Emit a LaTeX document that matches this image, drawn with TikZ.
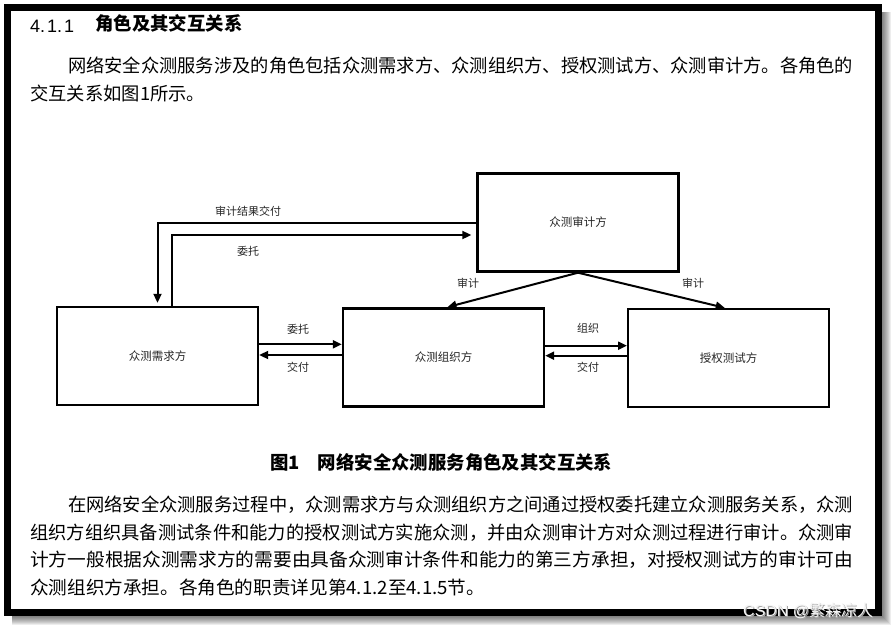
\documentclass[tikz,border=0pt]{standalone}
\usepackage{fontspec}
\usepackage{graphicx}
\usetikzlibrary{arrows.meta}
\setmainfont{Liberation Sans}
\newfontfamily\cjk{Noto Sans CJK SC}
\begin{document}
\begin{tikzpicture}[x=1pt,y=-1pt,
  box/.style={draw=black,line width=2.4pt,minimum width=201pt,minimum height=98pt,inner sep=0pt,font=\cjk\fontsize{11.5}{12}\selectfont,text=black!85},
  arr/.style={line width=2pt,-{Triangle[length=9pt,width=8pt]}},
  lbl/.style={font=\cjk\fontsize{11}{12}\selectfont,text=black!85,inner sep=0pt},
  txt/.style={font=\cjk\fontsize{18.3}{20}\selectfont,anchor=west,inner sep=0pt,text height=0.88em,text depth=0.12em}]
\useasboundingbox (0,0) rectangle (895,629);
% shadow
\foreach \i in {1,...,9}
  \fill[black,opacity=0.07] (12,12) rectangle (882+\i,616+\i);
\fill[white] (4,4) rectangle (882,616);
\draw[line width=7pt] (7.5,7.5) rectangle (878.5,612.5);

% heading
\node[anchor=west,inner sep=0pt,font=\fontsize{18}{20}\selectfont] (hnum) at (30,26) {4.\hspace{2pt}1.\hspace{2pt}1};
\node[txt,font=\cjk\bfseries\fontsize{18.4}{20}\selectfont] (htitle) at (95,27) {角色及其交互关系};

% paragraph 1
\node[txt] (p1a) at (68,69) {\resizebox{785pt}{\height}{网络安全众测服务涉及的角色包括众测需求方、众测组织方、授权测试方、众测审计方。各角色的}};
\node[txt] (p1b) at (30,97) {交互关系如图1所示。};

% diagram
\node[box] (req)  at (157.5,356) {众测需求方};
\node[box] (org)  at (443.5,357.3) {众测组织方};
\node[box] (test) at (728.7,358) {授权测试方};
\node[box] (aud)  at (578,222.5) {众测审计方};

\draw[arr,shorten >=3pt] (aud.west) -| (req.north);
\draw[arr,shorten >=5pt] ([xshift=14.5pt]req.north) |- ([yshift=-12.5pt]aud.west);
\node[lbl] (l1) at (248,211) {审计结果交付};
\node[lbl] (l2) at (248,251) {委托};

\draw[arr] ([yshift=11.7pt]req.east) -- ([yshift=11.7pt]req.east -| org.west);
\draw[arr] ([yshift=2.3pt]org.west) -- ([yshift=2.3pt]org.west -| req.east);
\node[lbl] (l3) at (298,329) {委托};
\node[lbl] (l4) at (298,367) {交付};

\draw[arr] ([yshift=11.6pt]org.east) -- ([yshift=11.6pt]org.east -| test.west);
\draw[arr] ([yshift=2.3pt]test.west) -- ([yshift=2.3pt]test.west -| org.east);
\node[lbl] (l5) at (588,328) {组织};
\node[lbl] (l6) at (588,367) {交付};

\draw[arr] (aud.south) -- ([xshift=4pt]org.north);
\draw[arr] (aud.south) -- ([xshift=-4pt]test.north);
\node[lbl] (l7) at (468,283) {审计};
\node[lbl] (l8) at (693,283) {审计};

% caption
\node[txt,font=\cjk\bfseries\fontsize{18.4}{20}\selectfont] (cap) at (270,466) {图1\hspace{18pt}网络安全众测服务角色及其交互关系};

% paragraph 2
\node[txt] (p2a) at (68,508) {\resizebox{785pt}{\height}{在网络安全众测服务过程中，众测需求方与众测组织方之间通过授权委托建立众测服务关系，众测}};
\node[txt] (p2b) at (30,536) {\resizebox{823pt}{\height}{组织方组织具备测试条件和能力的授权测试方实施众测，并由众测审计方对众测过程进行审计。众测审}};
\node[txt] (p2c) at (30,563) {\resizebox{823pt}{\height}{计方一般根据众测需求方的需要由具备众测审计条件和能力的第三方承担，对授权测试方的审计可由}};
\node[txt] (p2d) at (30,591) {\resizebox{455pt}{\height}{众测组织方承担。各角色的职责详见第4.1.2至4.1.5节。}};

% watermark
\node[anchor=west,inner sep=0pt,text=gray!70,font=\fontsize{16}{18}\selectfont] (wm0) at (744,612) {CSDN @{\cjk 繁森凉人}};
\node[anchor=west,inner sep=0pt,text=white!92!gray,font=\fontsize{16}{18}\selectfont] (wm) at (743,611) {CSDN @{\cjk 繁森凉人}};
\end{tikzpicture}
\end{document}
